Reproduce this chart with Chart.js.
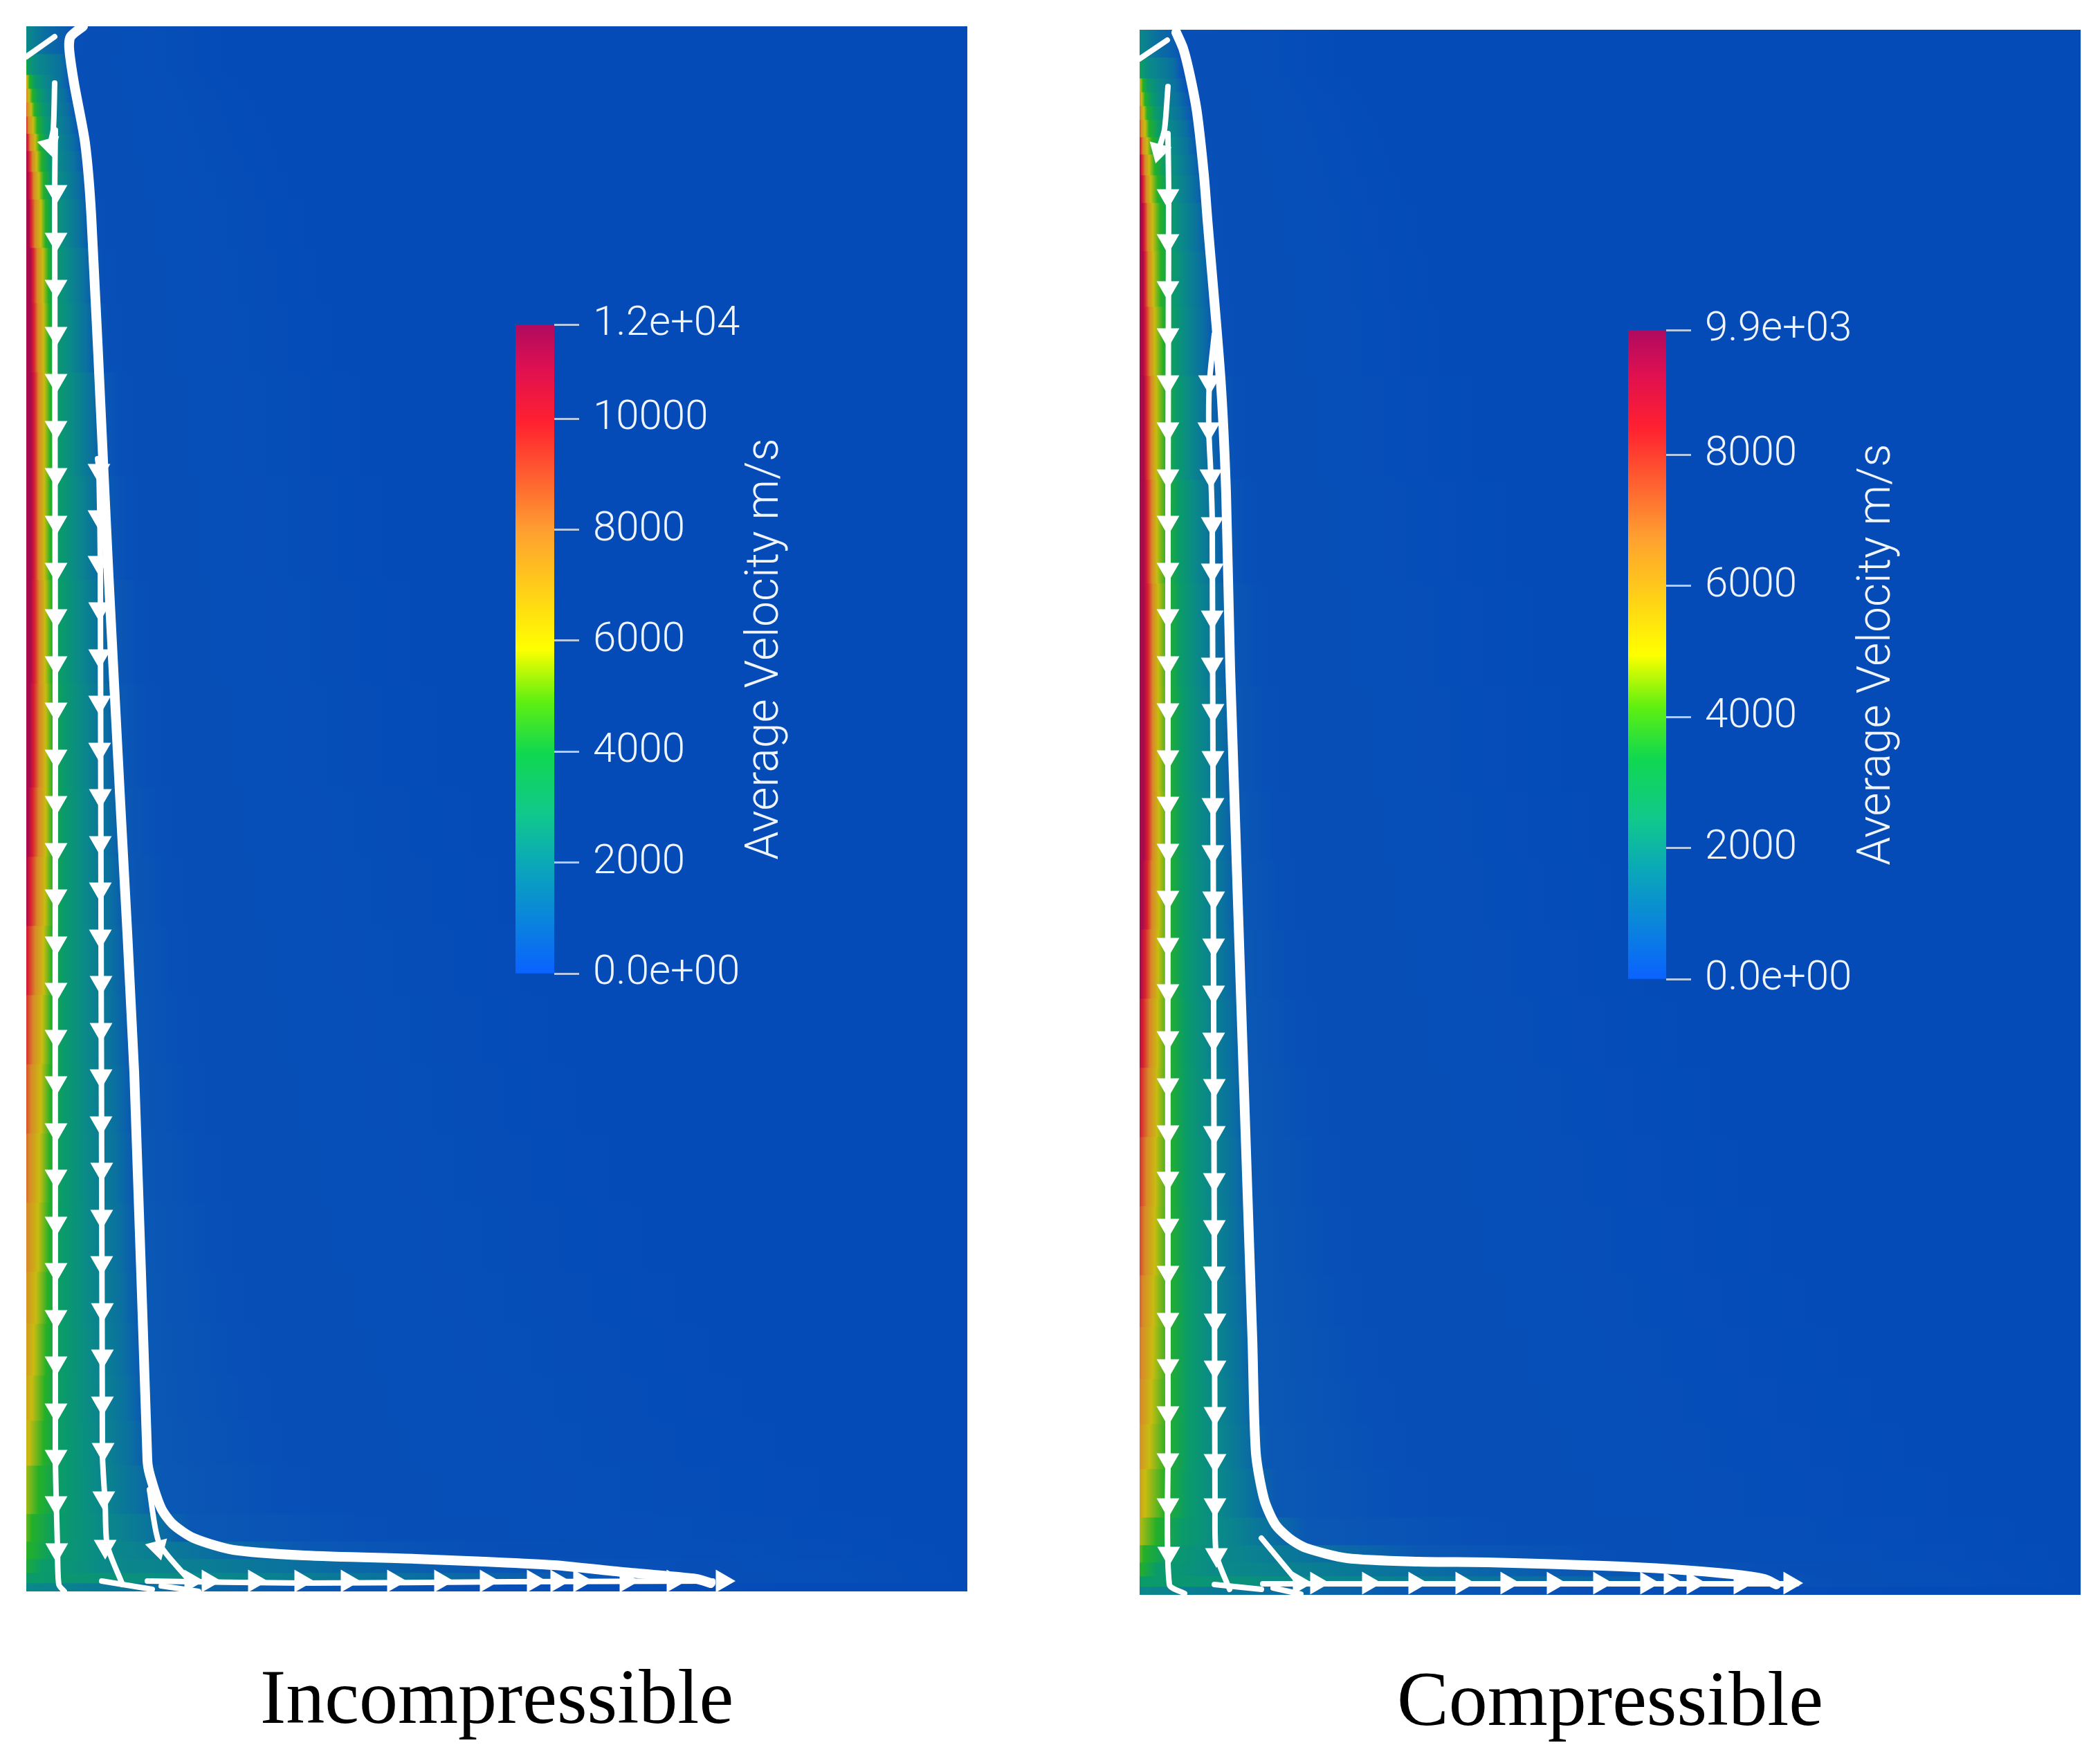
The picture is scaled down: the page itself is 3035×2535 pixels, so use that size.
<!DOCTYPE html>
<html>
<head>
<meta charset="utf-8">
<title>Average velocity, incompressible and compressible</title>
<script src="https://cdn.jsdelivr.net/npm/chart.js@4"></script>
<style>
  html, body { margin: 0; padding: 0; background: #fff; }
  body { position: relative; width: 3035px; height: 2535px; overflow: hidden; }
  canvas { position: absolute; }
</style>
</head>
<body>
<canvas id="fieldA"></canvas>
<canvas id="fieldB"></canvas>
<canvas id="barA"></canvas>
<canvas id="barB"></canvas>
<script>
'use strict';

// Field units: distance from the wall (x) and from the top (y).
var fieldWidth = 1360;
var fieldHeight = 2262;

var captions = ['Incompressible', 'Compressible'];
var colorbarTitle = 'Average Velocity m/s';

var ticksA = [0, 2000, 4000, 6000, 8000, 10000, 11700];
var tickLabelsA = ['0.0e+00', '2000', '4000', '6000', '8000', '10000', '1.2e+04'];
var ticksB = [0, 2000, 4000, 6000, 8000, 9900];
var tickLabelsB = ['0.0e+00', '2000', '4000', '6000', '8000', '9.9e+03'];

// colour ramp of the legend bar, position is the share of the full range
var rampStops = [0, 0.17, 0.245, 0.34, 0.42, 0.5, 0.68, 0.85, 0.93, 1];
var rampColors = ['#0a62ff', '#0aa8b8', '#10c88c', '#10d850', '#60f010', '#ffff00', '#ffa030', '#ff2030', '#e01050', '#b00a60'];

// field colours of the isotachs below, hottest first
// (roughly 11500, 10000, 8000, 6300, 5000, 3500, 2500, 1700, 800, 300, 0 m/s in the first panel)
var levelColors = ['#a80a4c', '#d82030', '#d88a28', '#c8bc10', '#24b028', '#0a9c68', '#0a8a88', '#0a70a0', '#0a58b4', '#0850b7', '#044bb8'];

var rowEdges = [0, 40, 70, 90, 110, 130, 155, 180, 210, 250, 320, 400, 500, 650, 800, 950, 1100, 1200, 1300, 1400, 1500, 1600, 1700, 1800, 1875, 1950, 2015, 2080, 2150, 2190, 2215, 2235, 2250, 2262];

// distance from the wall at which each row reaches each isotach,
// a negative distance means the wall itself is already below that isotach
var isotachsA = [
  [0, 0, 0, 0, 0, 0, 0, 25, 62, 72, 300],
  [0, 0, 0, 0, 0, 2, 14, 50, 62, 66, 300],
  [0, 0, 0, 1, 5, 12, 25, 50, 62, 70, 320],
  [0, 0, 0, 4, 9, 18, 30, 55, 66, 72, 340],
  [0, 0, 1, 7, 12, 22, 34, 58, 70, 75, 350],
  [0, 0, 3, 10, 16, 26, 38, 62, 74, 78, 360],
  [0, 2, 6, 13, 19, 29, 42, 66, 78, 82, 370],
  [1, 4, 9, 15, 22, 32, 45, 70, 82, 86, 380],
  [2, 6, 11, 18, 25, 35, 50, 74, 86, 90, 400],
  [4, 7, 13, 21, 28, 38, 55, 78, 90, 100, 420],
  [6, 10, 16, 24, 32, 40, 60, 84, 97, 110, 440],
  [6, 11, 17, 25, 33, 42, 63, 87, 102, 118, 460],
  [7, 12, 18, 26, 35, 45, 68, 95, 112, 135, 500],
  [7, 12, 18, 26, 35, 47, 72, 101, 119, 145, 540],
  [6, 12, 19, 27, 37, 49, 76, 107, 128, 160, 580],
  [5, 11, 19, 28, 38, 51, 80, 112, 135, 175, 620],
  [3, 9, 18, 28, 38, 52, 82, 117, 140, 188, 670],
  [0, 6, 16, 27, 38, 52, 83, 120, 144, 200, 710],
  [-4, 2, 13, 25, 37, 52, 84, 123, 147, 210, 750],
  [-8, -2, 10, 23, 36, 52, 85, 125, 150, 220, 790],
  [-12, -6, 7, 21, 35, 52, 86, 128, 153, 232, 830],
  [-15, -9, 4, 19, 34, 51, 87, 131, 156, 250, 880],
  [-20, -13, 1, 17, 33, 50, 88, 134, 160, 270, 930],
  [-24, -17, -3, 14, 31, 50, 90, 137, 163, 285, 980],
  [-27, -20, -6, 11, 29, 50, 92, 140, 166, 300, 1030],
  [-30, -24, -10, 8, 27, 50, 94, 144, 170, 315, 1080],
  [-34, -28, -14, 4, 25, 50, 97, 150, 176, 335, 1130],
  [-40, -32, -20, -6, 18, 50, 100, 160, 195, 370, 1200],
  [-46, -38, -26, -12, 8, 42, 110, 190, 235, 480, 1300],
  [-50, -40, -30, -15, 2, 38, 110, 260, 400, 650, 1360],
  [-70, -60, -45, -30, -10, 22, 110, 400, 640, 920, 1360],
  [-90, -80, -70, -50, -30, -5, 240, 560, 800, 980, 1360],
  [-120, -110, -100, -90, -70, -40, -10, 180, 400, 640, 1100]
];

var isotachsB = [
  [0, 0, 0, 0, 0, 0, 0, 25, 56, 62, 300],
  [0, 0, 0, 0, 0, 2, 14, 48, 58, 64, 300],
  [0, 0, 0, 1, 5, 12, 26, 52, 64, 70, 320],
  [0, 0, 0, 3, 8, 17, 30, 56, 70, 74, 340],
  [0, 0, 1, 6, 11, 22, 36, 60, 74, 80, 350],
  [0, 0, 2, 8, 14, 27, 42, 66, 78, 84, 360],
  [0, 1, 5, 11, 18, 32, 48, 70, 82, 88, 370],
  [1, 3, 8, 14, 22, 36, 52, 74, 88, 92, 380],
  [2, 5, 10, 16, 26, 40, 56, 78, 92, 96, 400],
  [4, 7, 12, 19, 30, 44, 60, 84, 98, 104, 420],
  [5, 8, 13, 20, 31, 47, 64, 88, 103, 115, 440],
  [5, 9, 15, 22, 34, 49, 66, 90, 106, 122, 455],
  [6, 10, 17, 24, 37, 53, 72, 97, 116, 138, 500],
  [6, 11, 18, 25, 38, 57, 79, 105, 126, 152, 550],
  [6, 12, 19, 27, 40, 59, 82, 111, 133, 168, 600],
  [6, 12, 19, 27, 41, 61, 85, 116, 138, 180, 640],
  [6, 12, 19, 28, 42, 62, 88, 120, 143, 192, 680],
  [4, 11, 18, 28, 42, 63, 90, 122, 146, 200, 710],
  [1, 8, 17, 27, 42, 64, 92, 126, 151, 215, 760],
  [-2, 5, 15, 26, 42, 66, 94, 130, 156, 230, 810],
  [-6, 1, 13, 25, 42, 67, 96, 133, 159, 245, 860],
  [-9, -2, 10, 23, 42, 68, 98, 136, 162, 260, 910],
  [-13, -5, 8, 22, 42, 69, 100, 139, 165, 275, 960],
  [-16, -8, 5, 20, 42, 70, 102, 142, 168, 290, 1010],
  [-19, -11, 3, 19, 41, 70, 104, 145, 171, 310, 1060],
  [-22, -14, 1, 17, 40, 70, 106, 148, 175, 330, 1110],
  [-26, -18, -3, 14, 39, 70, 108, 153, 183, 350, 1160],
  [-32, -24, -8, 8, 36, 68, 110, 162, 198, 380, 1220],
  [-40, -30, -16, -3, 24, 60, 115, 190, 240, 490, 1320],
  [-40, -30, -20, -8, 6, 40, 110, 260, 400, 660, 1360],
  [-60, -50, -35, -20, 0, 24, 110, 400, 620, 900, 1360],
  [-90, -80, -70, -50, -25, 0, 240, 560, 800, 980, 1360],
  [-120, -110, -100, -90, -70, -40, -10, 180, 400, 640, 1100]
];

// streamlines, thick one first
var mainStreamA = [[82, 0], [64, 15], [62, 32], [69, 82], [85, 169], [94, 275], [112, 649], [119, 795], [136, 1124], [156, 1511], [175, 2072], [179, 2095], [195, 2142], [212, 2165], [242, 2185], [299, 2202], [402, 2210], [562, 2215], [662, 2219], [762, 2224], [862, 2234], [969, 2244], [989, 2250]];
var thinStreamsA = [
  [[0, 44], [41, 15]],
  [[41, 82], [39, 149], [34, 172]],
  [[42, 150], [41, 240], [42, 1000], [42, 2062], [45, 2195], [47, 2252], [55, 2262]],
  [[103, 625], [105, 642], [107, 775], [110, 2062], [114, 2135], [117, 2195], [139, 2252]],
  [[178, 2115], [192, 2192], [232, 2242]],
  [[109, 2247], [182, 2259]],
  [[195, 2254], [249, 2262]],
  [[175, 2247], [400, 2250], [700, 2248], [992, 2247]]
];
var downArrowsA = [[43, 239], [43, 308], [43, 376], [43, 444], [43, 512], [43, 580], [43, 648], [43, 717], [43, 785], [43, 852], [43, 920], [43, 987], [43, 1055], [43, 1122], [43, 1190], [43, 1257], [43, 1325], [43, 1392], [43, 1460], [43, 1527], [43, 1595], [43, 1662], [43, 1730], [43, 1797], [43, 1865], [43, 1932], [43, 2000], [43, 2067], [43, 2134], [44, 2202],
  [105, 642], [105, 709], [105, 775], [106, 842], [106, 910], [106, 977], [106, 1045], [107, 1112], [107, 1180], [107, 1247], [107, 1315], [108, 1382], [108, 1450], [108, 1517], [108, 1585], [109, 1652], [109, 1720], [109, 1787], [110, 1855], [110, 1922], [110, 1990], [111, 2057], [112, 2127], [114, 2197]];
var slantArrowsA = [[34, 172], [190, 2199]];
var rightArrowsA = [[238, 2247], [263, 2247], [330, 2247], [397, 2247], [464, 2247], [531, 2247], [599, 2247], [665, 2247], [733, 2247], [767, 2247], [800, 2247], [867, 2247], [935, 2247], [1006, 2247]];

var mainStreamB = [[53, 4], [63, 27], [73, 67], [83, 120], [93, 210], [98, 274], [117, 504], [125, 670], [131, 925], [163, 1893], [168, 2057], [180, 2124], [196, 2160], [216, 2180], [240, 2194], [300, 2209], [403, 2214], [503, 2215], [670, 2220], [770, 2225], [856, 2232], [903, 2239], [920, 2247]];
var thinStreamsB = [
  [[0, 42], [40, 15]],
  [[41, 82], [36, 144], [28, 172]],
  [[41, 150], [42, 240], [41, 700], [41, 2060], [43, 2247], [65, 2260]],
  [[108, 440], [101, 509], [100, 577], [103, 645], [105, 714], [109, 2132], [111, 2204], [130, 2254]],
  [[176, 2180], [226, 2240]],
  [[108, 2247], [176, 2254]],
  [[193, 2252], [233, 2261]],
  [[178, 2246], [950, 2246]]
];
var downArrowsB = [[41, 240], [41, 305], [41, 373], [41, 441], [41, 509], [41, 577], [41, 645], [41, 712], [41, 780], [41, 847], [41, 915], [41, 983], [41, 1051], [41, 1118], [41, 1186], [41, 1254], [41, 1322], [41, 1389], [41, 1457], [41, 1525], [41, 1593], [41, 1660], [41, 1728], [41, 1796], [41, 1864], [41, 1931], [41, 1999], [41, 2067], [41, 2132], [42, 2202],
  [101, 509], [100, 577], [103, 645], [105, 714], [105, 781], [105, 849], [105, 917], [106, 984], [106, 1052], [106, 1120], [106, 1188], [107, 1255], [107, 1323], [107, 1391], [107, 1459], [108, 1526], [108, 1594], [108, 1662], [108, 1730], [108, 1797], [109, 1865], [109, 1933], [109, 2000], [109, 2068], [109, 2132], [111, 2204]];
var slantArrowsB = [[28, 175]];
var rightArrowsB = [[231, 2245], [256, 2245], [331, 2245], [398, 2245], [466, 2245], [531, 2245], [598, 2245], [665, 2245], [733, 2245], [767, 2245], [800, 2245], [868, 2245], [940, 2245]];

function toPoints(pairs) {
  return pairs.map(function(p) { return { x: p[0], y: p[1] }; });
}

function cellColor(ctx) {
  var raw = ctx.raw;
  if (!raw) return levelColors[levelColors.length - 1];
  if (raw.from === raw.to || !ctx.chart.chartArea) return levelColors[raw.from];
  var xScale = ctx.chart.scales.x;
  var grad = ctx.chart.ctx.createLinearGradient(xScale.getPixelForValue(raw.x[0]), 0, xScale.getPixelForValue(raw.x[1]), 0);
  grad.addColorStop(0, levelColors[raw.from]);
  grad.addColorStop(1, levelColors[raw.to]);
  return grad;
}

function rowDataset(xs, r) {
  var y = (rowEdges[r] + rowEdges[r + 1]) / 2;
  var cells = [];
  if (xs[0] > 0) cells.push({ x: [0, xs[0]], y: y, from: 0, to: 0 });
  for (var k = 0; k < xs.length - 1; k++) {
    if (xs[k + 1] > xs[k]) cells.push({ x: [xs[k], xs[k + 1]], y: y, from: k, to: k + 1 });
  }
  var last = xs.length - 1;
  if (xs[last] < fieldWidth) cells.push({ x: [xs[last], fieldWidth], y: y, from: last, to: last });
  return {
    type: 'bar',
    indexAxis: 'y',
    grouped: false,
    barThickness: rowEdges[r + 1] - rowEdges[r],
    data: cells,
    backgroundColor: cellColor,
    borderWidth: 0,
    order: 3
  };
}

function streamDataset(pairs, width) {
  return {
    type: 'scatter',
    showLine: true,
    data: toPoints(pairs),
    borderColor: '#ffffff',
    borderWidth: width,
    tension: 0.25,
    borderCapStyle: 'round',
    borderJoinStyle: 'round',
    pointRadius: 0,
    order: 2
  };
}

function arrowDataset(pairs, rotation, radius) {
  return {
    type: 'scatter',
    showLine: false,
    data: toPoints(pairs),
    pointStyle: 'triangle',
    pointRadius: radius,
    pointRotation: rotation,
    pointBackgroundColor: '#ffffff',
    pointBorderColor: '#ffffff',
    pointBorderWidth: 0,
    order: 1
  };
}

function placeCanvas(id, left, top, width, height) {
  var c = document.getElementById(id);
  c.width = width;
  c.height = height;
  c.style.left = left + 'px';
  c.style.top = top + 'px';
  c.style.width = width + 'px';
  c.style.height = height + 'px';
  return c;
}

function drawField(id, left, top, captionSpace, isotachs, mainStream, thinStreams, downArrows, slantArrows, slantAngle, rightArrows, caption) {
  var canvas = placeCanvas(id, left, top, fieldWidth, fieldHeight + captionSpace);
  var datasets = isotachs.map(rowDataset);
  datasets.push(streamDataset(mainStream, 14));
  thinStreams.forEach(function(s) { datasets.push(streamDataset(s, 8)); });
  datasets.push(arrowDataset(downArrows, 180, 19));
  datasets.push(arrowDataset(slantArrows, slantAngle, 19));
  datasets.push(arrowDataset(rightArrows, 90, 19));

  return new Chart(canvas, {
    type: 'bar',
    data: { datasets: datasets },
    options: {
      responsive: false,
      animation: false,
      layout: { autoPadding: false },
      plugins: { legend: { display: false }, tooltip: { enabled: false } },
      scales: {
        x: {
          type: 'linear',
          min: 0,
          max: fieldWidth,
          offset: false,
          grid: { display: false },
          border: { display: false },
          ticks: { display: false },
          afterFit: function(scale) { scale.height = captionSpace; },
          title: {
            display: true,
            text: caption,
            color: '#000000',
            font: { family: '"Liberation Serif", serif', size: 112 },
            padding: { top: 0, bottom: 0 }
          }
        },
        y: {
          type: 'linear',
          display: false,
          reverse: true,
          min: 0,
          max: fieldHeight,
          offset: false,
          grid: { display: false }
        }
      }
    }
  });
}

function drawColorbar(id, left, top, barWidth, barHeight, ticks, labels) {
  var margin = 60;
  var axisWidth = 480;
  var canvas = placeCanvas(id, left, top - margin, barWidth + axisWidth, barHeight + margin * 2);
  var maxValue = ticks[ticks.length - 1];

  var titlePlugin = {
    id: 'barTitle',
    afterDraw: function(chart) {
      var area = chart.chartArea;
      var ctx = chart.ctx;
      ctx.save();
      ctx.translate(area.right + 306, (area.top + area.bottom) / 2);
      ctx.rotate(-Math.PI / 2);
      ctx.font = '300 66px Roboto, sans-serif';
      ctx.fillStyle = '#f0f4fc';
      ctx.textAlign = 'center';
      ctx.textBaseline = 'middle';
      ctx.fillText(colorbarTitle, 0, 0);
      ctx.restore();
    }
  };

  return new Chart(canvas, {
    type: 'bar',
    data: {
      labels: [''],
      datasets: [{
        data: [maxValue],
        barPercentage: 1,
        categoryPercentage: 1,
        backgroundColor: function(ctx) {
          var area = ctx.chart.chartArea;
          if (!area) return rampColors[0];
          var grad = ctx.chart.ctx.createLinearGradient(0, area.bottom, 0, area.top);
          rampStops.forEach(function(s, i) { grad.addColorStop(s, rampColors[i]); });
          return grad;
        }
      }]
    },
    options: {
      responsive: false,
      animation: false,
      layout: { padding: { top: margin, bottom: margin } },
      plugins: { legend: { display: false }, tooltip: { enabled: false } },
      scales: {
        x: { display: false },
        y: {
          type: 'linear',
          position: 'right',
          min: 0,
          max: maxValue,
          afterBuildTicks: function(scale) {
            scale.ticks = ticks.map(function(v) { return { value: v }; });
          },
          afterFit: function(scale) {
            scale.width = axisWidth;
            scale.paddingTop = 0;
            scale.paddingBottom = 0;
          },
          grid: { drawOnChartArea: false, drawTicks: true, tickLength: 36, tickColor: '#b4c8e8', tickWidth: 3 },
          border: { display: false },
          ticks: {
            autoSkip: false,
            maxRotation: 0,
            padding: 20,
            labelOffset: 0,
            color: '#f0f4fc',
            font: { family: 'Roboto, sans-serif', size: 60, weight: '300' },
            callback: function(value, index) { return labels[index]; }
          }
        }
      }
    },
    plugins: [titlePlugin]
  });
}

drawField('fieldA', 38, 38, 228, isotachsA, mainStreamA, thinStreamsA, downArrowsA, slantArrowsA, 165, rightArrowsA, captions[0]);
drawField('fieldB', 1647, 43, 226, isotachsB, mainStreamB, thinStreamsB, downArrowsB, slantArrowsB, 195, rightArrowsB, captions[1]);
drawColorbar('barA', 745, 469, 56, 938, ticksA, tickLabelsA);
drawColorbar('barB', 2353, 477, 55, 938, ticksB, tickLabelsB);
</script>
</body>
</html>
